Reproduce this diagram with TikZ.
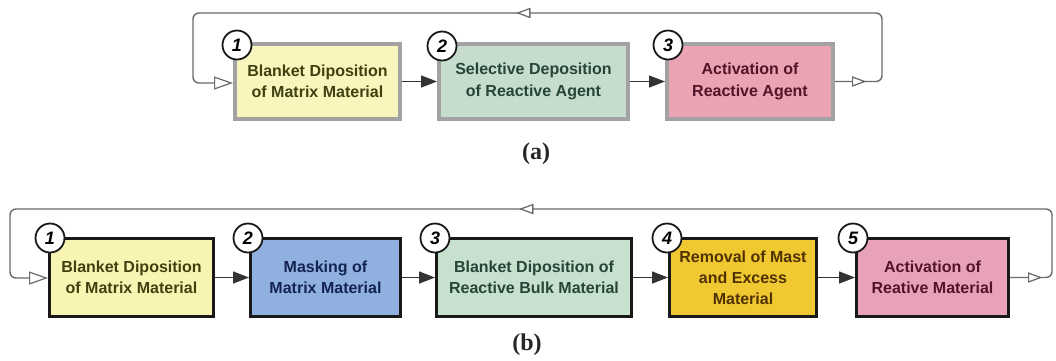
\documentclass[tikz,border=0pt]{standalone}
\usepackage{fontspec}
\setmainfont{Liberation Sans}
\newfontfamily\serifb{Liberation Serif}
\usetikzlibrary{arrows.meta,decorations.markings}
\definecolor{ya}{HTML}{F8F6BC}
\definecolor{ga}{HTML}{C6DDCD}
\definecolor{pa}{HTML}{E9A3B3}
\definecolor{yb}{HTML}{F8F5B2}
\definecolor{bb}{HTML}{90B0E0}
\definecolor{gb}{HTML}{C8E1CE}
\definecolor{ob}{HTML}{F0C832}
\definecolor{pb}{HTML}{E8A2B8}
\definecolor{ty}{HTML}{424010}
\definecolor{tg}{HTML}{264438}
\definecolor{tp}{HTML}{521428}
\definecolor{tb}{HTML}{142450}
\definecolor{to}{HTML}{503200}
\definecolor{bordera}{HTML}{A2A2A2}
\definecolor{loopc}{HTML}{6A6A6A}
\begin{document}
\begin{tikzpicture}[x=1pt,y=-1pt,
  boxa/.style={draw=bordera, line width=4pt, minimum height=75pt, align=center,
    inner sep=0pt, font=\bfseries\fontsize{16}{21.5}\selectfont},
  boxb/.style={draw=black!90, line width=3pt, minimum height=78pt, align=center,
    inner sep=0pt, font=\bfseries\fontsize{16}{21}\selectfont},
  num/.style={circle, draw=black!90, line width=1.8pt, fill=white, minimum size=29pt,
    inner sep=0pt, font=\bfseries\itshape\fontsize{18}{18}\selectfont},
  flow/.style={draw=black!80, line width=1.4pt, -{Triangle[length=16pt,width=12pt]}},
  fback/.style={draw=loopc, line width=1.4pt, rounded corners=6pt,
    -{Triangle[fill=white,length=19pt,width=13pt,line width=1.2pt]}},
  midtip/.style={decoration={markings,
    mark=at position #1 with {\arrow{Triangle[fill=white,length=14pt,width=10pt,line width=1.1pt]}}},
    postaction={decorate}},
  captxt/.style={font=\serifb\bfseries\fontsize{24}{24}\selectfont, text=black!85}
]
\useasboundingbox (0,0) rectangle (1056,360);
\fill[white] (0,0) rectangle (1056,360);

% ---------- (a) ----------
\node[boxa, fill=ya, text=ty, minimum width=165pt] (a1) at (317.5,81.5) {Blanket Diposition\\of Matrix Material};
\node[boxa, fill=ga, text=tg, minimum width=189pt] (a2) at (533.5,81.5) {Selective Deposition\\of Reactive Agent};
\node[boxa, fill=pa, text=tp, minimum width=166pt] (a3) at (750,81.5) {Activation of\\Reactive Agent};

\draw[flow] (a1.east) -- (a2.west);
\draw[flow] (a2.east) -- (a3.west);

\coordinate (atr) at (882,13);
\coordinate (atl) at (193,83);
\draw[fback, midtip=31pt, midtip=476pt] (a3.east) -| (atr) -| (atl) -- (a1.west |- atl);

\node[num] (n1) at (237,45) {1};
\node[num] (n2) at (442,46) {2};
\node[num] (n3) at (668,45) {3};

\node[captxt] (la) at (536,154) {(a)};

% ---------- (b) ----------
\node[boxb, fill=yb, text=ty, minimum width=164pt] (b1) at (131.5,277.5) {Blanket Diposition\\of Matrix Material};
\node[boxb, fill=bb, text=tb, minimum width=150pt] (b2) at (325.5,277.5) {Masking of\\Matrix Material};
\node[boxb, fill=gb, text=tg, minimum width=195pt] (b3) at (534,277.5) {Blanket Diposition of\\Reactive Bulk Material};
\node[boxb, fill=ob, text=to, minimum width=147pt] (b4) at (743,277.5) {Removal of Mast\\and Excess\\Material};
\node[boxb, fill=pb, text=tp, minimum width=152pt] (b5) at (932.5,277.5) {Activation of\\Reative Material};

\draw[flow] (b1.east) -- (b2.west);
\draw[flow] (b2.east) -- (b3.west);
\draw[flow] (b3.east) -- (b4.west);
\draw[flow] (b4.east) -- (b5.west);

\coordinate (btr) at (1052,209);
\coordinate (btl) at (10,278);
\draw[fback, midtip=32pt, midtip=638pt] (b5.east) -| (btr) -| (btl) -- (b1.west |- btl);

\node[num] (m1) at (50,238) {1};
\node[num] (m2) at (248,238) {2};
\node[num] (m3) at (435,238) {3};
\node[num] (m4) at (667,238) {4};
\node[num] (m5) at (853,238) {5};

\node[captxt] (lb) at (527,345) {(b)};
\end{tikzpicture}
\end{document}
